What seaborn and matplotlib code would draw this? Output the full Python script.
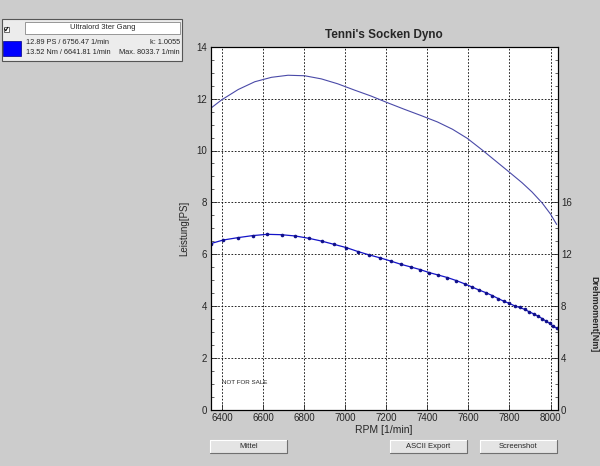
import matplotlib
matplotlib.use('Agg')
import matplotlib.pyplot as plt
from matplotlib.patches import Rectangle
from matplotlib.lines import Line2D
from matplotlib.ticker import MultipleLocator
import pandas as pd
import seaborn as sns

# Leistung (PS) over RPM, thin line without markers
rpm_power = [6343, 6397, 6478, 6559, 6640, 6721, 6802, 6883, 6963, 7044, 7125, 7206,
             7287, 7368, 7449, 7522, 7594, 7667, 7732, 7797, 7861, 7910, 7959, 8000, 8030]
power_ps = [11.62, 11.95, 12.35, 12.65, 12.82, 12.90, 12.88, 12.76, 12.57, 12.33, 12.10, 11.84,
            11.59, 11.35, 11.10, 10.82, 10.47, 10.02, 9.60, 9.18, 8.76, 8.40, 7.98, 7.55, 7.15]

# Drehmoment (Nm) over RPM, line with sample dots
rpm_torque = [6343, 6405, 6475, 6548, 6619, 6689, 6757, 6823, 6884, 6944, 7004, 7062, 7117, 7171,
              7221, 7271, 7320, 7365, 7409, 7451, 7497, 7540, 7582, 7616, 7651, 7684, 7716, 7745,
              7773, 7800, 7826, 7850, 7875, 7897, 7918, 7939, 7959, 7978, 7996, 8012, 8030]
torque_nm = [12.82, 13.10, 13.28, 13.44, 13.54, 13.51, 13.41, 13.23, 13.02, 12.77, 12.52, 12.21,
             11.95, 11.72, 11.48, 11.23, 11.02, 10.82, 10.59, 10.41, 10.21, 9.98, 9.72, 9.49,
             9.25, 9.05, 8.82, 8.59, 8.38, 8.21, 8.02, 7.90, 7.75, 7.56, 7.41, 7.23, 7.05, 6.85,
             6.67, 6.48, 6.31]

x_ticks = [6400, 6600, 6800, 7000, 7200, 7400, 7600, 7800, 8000]
ps_ticks = [0, 2, 4, 6, 8, 10, 12, 14]
nm_ticks = [0, 4, 8, 12, 16]

info_lines = [("12.89 PS / 6756.47 1/min", "k: 1.0055"),
              ("13.52 Nm / 6641.81 1/min", "Max. 8033.7 1/min")]
buttons = ["Mittel", "ASCII Export", "Screenshot"]

df_p = pd.DataFrame({'rpm': rpm_power, 'ps': power_ps})
df_t = pd.DataFrame({'rpm': rpm_torque, 'nm': torque_nm})

sns.set_style('ticks')
plt.rcParams['font.family'] = ['Liberation Sans', 'DejaVu Sans']

W, H = 600, 466
BG = '#cccccc'
fig = plt.figure(figsize=(6, 4.66), dpi=100, facecolor=BG)


def fbox(x, y, w, h):
    # pixel box (top-left origin) -> figure fraction
    return [x / W, 1 - (y + h) / H, w / W, h / H]


def fx(x):
    return x / W


def fy(y):
    return 1 - y / H


ax = fig.add_axes(fbox(210.5, 46.7, 347, 363.3))
ax.set_facecolor('white')
ax2 = ax.twinx()

sns.lineplot(data=df_p, x='rpm', y='ps', ax=ax, color='#4a4aa8', linewidth=0.8)
sns.lineplot(data=df_t, x='rpm', y='nm', ax=ax2, color='#1414c8', linewidth=0.9,
             marker='o', markersize=2.6, markeredgewidth=0, markerfacecolor='#10108a')

ax.set_xlim(6343, 8034)
ax.set_ylim(0, 14)
ax2.set_ylim(0, 28)
ax.set_xticks(x_ticks)
ax.set_yticks(ps_ticks)
ax2.set_yticks(nm_ticks)
ax.yaxis.set_minor_locator(MultipleLocator(0.5))
ax2.yaxis.set_minor_locator(MultipleLocator(1))

for a in (ax, ax2):
    a.tick_params(which='major', direction='in', length=4, width=0.6, labelsize=7, pad=2.5)
    a.tick_params(which='minor', direction='in', length=2, width=0.5)
    for s in a.spines.values():
        s.set_color('black')
        s.set_linewidth(0.8)

ax.grid(True, which='major', color='black', linestyle=(0, (2, 2)), linewidth=0.6)
ax.set_axisbelow(True)

ax.set_title("Tenni's Socken Dyno", fontsize=8.5, fontweight='bold', pad=6)
ax.set_xlabel('RPM [1/min]', fontsize=7.5, labelpad=1)
ax.set_ylabel('Leistung[PS]', fontsize=7, labelpad=5)
ax2.set_ylabel('')

fig.text(fx(594), 0.325, 'Drehmoment[Nm]', rotation=270, fontsize=6.5, fontweight='bold',
         ha='center', va='center')
fig.text(fx(222), fy(383), 'NOT FOR SALE', fontsize=4.5, va='center')

# legend / info panel
fig.patches.append(Rectangle(fbox(2, 19, 180, 42)[:2], 180 / W, 42 / H, transform=fig.transFigure,
                             facecolor='#ececec', edgecolor='#555555', linewidth=0.8))
fig.patches.append(Rectangle(fbox(25, 21.5, 155, 12)[:2], 155 / W, 12 / H, transform=fig.transFigure,
                             facecolor='white', edgecolor='#888888', linewidth=0.6))
fig.text(fx(103), fy(27.5), 'Ultralord 3ter Gang', fontsize=5.5, ha='center', va='center')
fig.patches.append(Rectangle(fbox(3.5, 26.5, 5, 5)[:2], 5 / W, 5 / H, transform=fig.transFigure,
                             facecolor='white', edgecolor='#333333', linewidth=0.5))
fig.lines.append(Line2D([fx(4.5), fx(5.8), fx(7.8)], [fy(28.8), fy(30.8), fy(27.3)],
                        transform=fig.transFigure, color='black', linewidth=0.7))
fig.patches.append(Rectangle(fbox(3, 41.5, 18, 14.5)[:2], 18 / W, 14.5 / H, transform=fig.transFigure,
                             facecolor='#0000ff', edgecolor='#000080', linewidth=0.5))
for i, (left, right) in enumerate(info_lines):
    yy = 42.8 + 10 * i
    fig.text(fx(26), fy(yy), left, fontsize=5.3, va='center')
    fig.text(fx(180), fy(yy), right, fontsize=5.3, va='center', ha='right')

# buttons below the chart
for i, label in enumerate(buttons):
    bx = [210, 390, 480][i]
    by, bw, bh = 440, 77, 13
    fig.patches.append(Rectangle(fbox(bx, by, bw, bh)[:2], bw / W, bh / H, transform=fig.transFigure,
                                 facecolor='#e4e4e4', edgecolor='none'))
    fig.lines.append(Line2D([fx(bx), fx(bx), fx(bx + bw)], [fy(by + bh), fy(by), fy(by)],
                            transform=fig.transFigure, color='white', linewidth=0.8))
    fig.lines.append(Line2D([fx(bx), fx(bx + bw), fx(bx + bw)], [fy(by + bh), fy(by + bh), fy(by)],
                            transform=fig.transFigure, color='#707070', linewidth=0.8))
    fig.text(fx(bx + bw / 2), fy(by + bh / 2), label, fontsize=5.5, ha='center', va='center')

fig.savefig('out.png', dpi=100, facecolor=BG)
